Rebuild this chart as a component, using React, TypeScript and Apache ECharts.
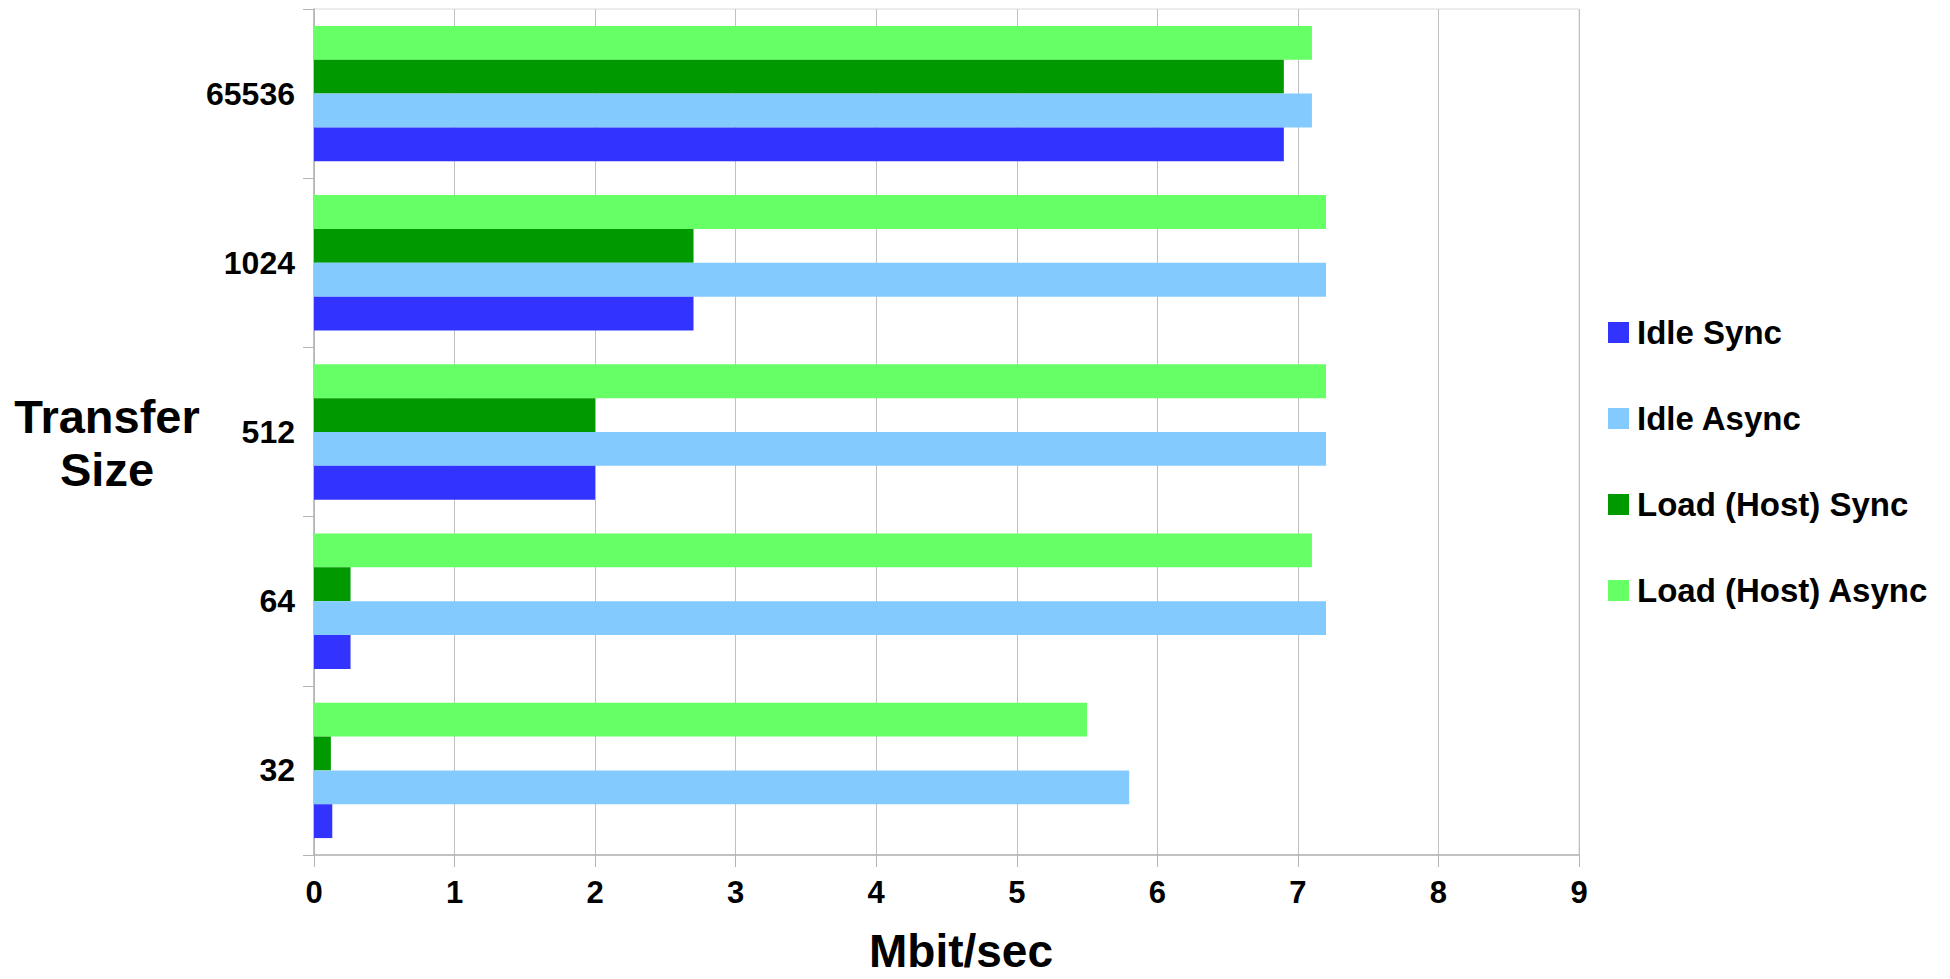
import React, { useEffect, useRef } from "react";
import * as echarts from "echarts";

const categories = ["32", "64", "512", "1024", "65536"];
const seriesNames = ["Idle Sync", "Idle Async", "Load (Host) Sync", "Load (Host) Async"];
const idleSync = [0.13, 0.26, 2.0, 2.7, 6.9];
const idleAsync = [5.8, 7.2, 7.2, 7.2, 7.1];
const loadSync = [0.12, 0.26, 2.0, 2.7, 6.9];
const loadAsync = [5.5, 7.1, 7.2, 7.2, 7.1];
const colors = ["#3333ff", "#83caff", "#009900", "#66ff66"];
const xTitle = "Mbit/sec";
const yTitle = "Transfer\nSize";

const FONT = "'Liberation Sans', Arial, sans-serif";

export default function App() {
  const ref = useRef<HTMLDivElement>(null);
  useEffect(() => {
    document.body.style.margin = "0";
    if (!ref.current) return;
    const chart = echarts.init(ref.current, null, { renderer: "svg" });
    const values = [idleSync, idleAsync, loadSync, loadAsync];
    const series = seriesNames.map((name, i) => ({
      name,
      type: "bar",
      data: values[i],
      barGap: "0%",
      barCategoryGap: "20%",
      itemStyle: { color: colors[i] },
    }));
    // ECharts puts the first series at the top of a horizontal group; reverse so Idle Sync sits at the bottom
    series.reverse();
    chart.setOption({
      animation: false,
      textStyle: { fontFamily: FONT },
      grid: {
        left: 314,
        right: 371,
        top: 9,
        bottom: 124,
        show: true,
        borderColor: "#d9d9d9",
        borderWidth: 1,
      },
      legend: {
        orient: "vertical",
        left: 1608,
        top: 316,
        padding: 0,
        itemGap: 53,
        itemWidth: 21,
        itemHeight: 21,
        icon: "rect",
        textStyle: {
          fontSize: 33,
          fontWeight: "bold",
          color: "#000",
          fontFamily: FONT,
          padding: [0, 0, 0, 3],
        },
        data: seriesNames,
      },
      xAxis: {
        type: "value",
        min: 0,
        max: 9,
        interval: 1,
        axisLine: { show: true, lineStyle: { color: "#b3b3b3", width: 1.5 } },
        axisTick: { show: true, length: 12, lineStyle: { color: "#b3b3b3" } },
        axisLabel: { fontSize: 31, fontWeight: "bold", color: "#000", margin: 22, fontFamily: FONT },
        splitLine: { show: true, lineStyle: { color: "#c0c0c0", width: 1 } },
      },
      yAxis: {
        type: "category",
        data: categories,
        axisLine: { show: true, lineStyle: { color: "#b3b3b3", width: 1.5 } },
        axisTick: { show: true, length: 11, lineStyle: { color: "#b3b3b3" } },
        axisLabel: { fontSize: 32, fontWeight: "bold", color: "#000", margin: 19, fontFamily: FONT },
        splitLine: { show: false },
      },
      graphic: [
        {
          type: "text",
          x: 107,
          y: 443,
          style: {
            text: yTitle,
            fontSize: 47,
            fontWeight: "bold",
            fontFamily: FONT,
            fill: "#000",
            align: "center",
            verticalAlign: "middle",
            lineHeight: 53,
          },
        },
        {
          type: "text",
          x: 961,
          y: 951,
          style: {
            text: xTitle,
            fontSize: 46,
            fontWeight: "bold",
            fontFamily: FONT,
            fill: "#000",
            align: "center",
            verticalAlign: "middle",
            lineHeight: 40,
          },
        },
      ],
      series,
    });
    return () => chart.dispose();
  }, []);
  return <div ref={ref} style={{ width: 1950, height: 979 }} />;
}
